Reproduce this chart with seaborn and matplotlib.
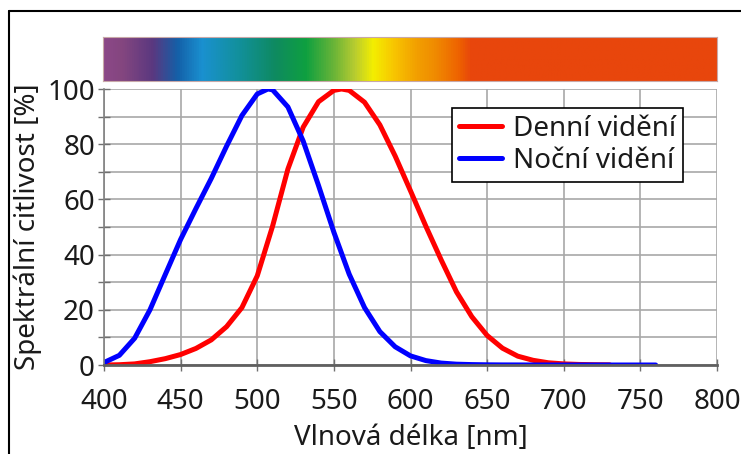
import matplotlib

matplotlib.use("Agg")
import matplotlib.pyplot as plt
from matplotlib.colors import LinearSegmentedColormap
from matplotlib.lines import Line2D
import numpy as np
import pandas as pd
import seaborn as sns

# photopic (day) sensitivity, %
DAY_WL = [400, 410, 420, 430, 440, 450, 460, 470, 480, 490, 500, 510, 520, 530, 540,
          550, 555, 560, 570, 580, 590, 600, 610, 620, 630, 640, 650, 660, 670, 680,
          690, 700, 710, 720, 730]
DAY_VAL = [0.0, 0.1, 0.4, 1.2, 2.3, 3.8, 6.0, 9.1, 13.9, 20.8, 32.3, 50.3, 71.0, 86.2, 95.4,
           99.5, 100.0, 99.5, 95.2, 87.0, 75.7, 63.1, 50.3, 38.1, 26.5, 17.5, 10.7, 6.1, 3.2, 1.7,
           0.8, 0.4, 0.2, 0.1, 0.05]

# scotopic (night) sensitivity, %
NIGHT_WL = [400, 410, 420, 430, 440, 450, 460, 470, 480, 490, 500, 507, 510, 520, 530,
            540, 550, 560, 570, 580, 590, 600, 610, 620, 630, 640, 650, 660, 680, 700,
            720, 740, 760]
NIGHT_VAL = [0.9, 3.5, 9.7, 20.0, 32.8, 45.5, 56.7, 67.6, 79.3, 90.4, 98.2, 100.0, 99.7, 93.5, 81.1,
             65.0, 48.1, 32.9, 20.8, 12.1, 6.6, 3.3, 1.6, 0.7, 0.3, 0.15, 0.07, 0.03, 0.01, 0.0,
             0.0, 0.0, 0.0]

LABELS = ["Denní vidění", "Noční vidění"]
COLORS = ["#ff0000", "#0000ff"]

X_TICKS = [400, 450, 500, 550, 600, 650, 700, 750, 800]
Y_TICKS = [0, 20, 40, 60, 80, 100]

# colour stops of the spectrum strip (fraction of width, colour)
SPECTRUM = [
    (0.00, "#8c4888"), (0.03, "#84467f"), (0.08, "#5a3880"), (0.12, "#1460a8"),
    (0.16, "#1a90d0"), (0.22, "#12909c"), (0.28, "#0e8a60"), (0.33, "#0ea040"),
    (0.375, "#68b438"), (0.41, "#b8cc30"), (0.44, "#f4ee00"), (0.475, "#f8c400"),
    (0.51, "#f2a000"), (0.54, "#f08c00"), (0.58, "#ee6200"), (0.60, "#e8460c"),
    (1.00, "#e8460c"),
]

sns.set_theme(style="white")
plt.rcParams["font.family"] = ["Noto Sans", "DejaVu Sans"]
text_col = "#1a1a1a"
fs = 20

df = pd.concat([
    pd.DataFrame({"wl": DAY_WL, "val": DAY_VAL, "typ": LABELS[0]}),
    pd.DataFrame({"wl": NIGHT_WL, "val": NIGHT_VAL, "typ": LABELS[1]}),
], ignore_index=True)

fig = plt.figure(figsize=(7.41, 4.54), dpi=100)
ax = fig.add_axes([104 / 741, 1 - 365 / 454, 613 / 741, 276 / 454])
sns.lineplot(data=df, x="wl", y="val", hue="typ", palette=dict(zip(LABELS, COLORS)),
             linewidth=3.6, ax=ax, legend=False)

ax.set_xlim(400, 800)
ax.set_ylim(0, 100)
ax.set_xticks(X_TICKS)
ax.set_yticks(Y_TICKS)
ax.set_yticks(np.arange(10, 100, 20), minor=True)
ax.grid(True, which="both", color="#a8a8a8", linewidth=1.2)
ax.set_axisbelow(True)
for side in ("top", "right"):
    ax.spines[side].set_visible(False)
ax.spines["left"].set_color("#808080")
ax.spines["left"].set_linewidth(1.2)
ax.spines["bottom"].set_color("#606060")
ax.spines["bottom"].set_linewidth(2)
ax.tick_params(axis="both", which="both", direction="inout", length=9, width=1,
               color="#707070", labelsize=fs, labelcolor=text_col, left=True, bottom=True)
ax.tick_params(axis="y", pad=2)
ax.tick_params(axis="x", pad=12)
ax.set_xlabel("Vlnová délka [nm]", fontsize=fs, color=text_col, labelpad=6)
ax.set_ylabel("Spektrální citlivost [%]", fontsize=fs, color=text_col, labelpad=4)

handles = [Line2D([], [], color=c, linewidth=3.6) for c in COLORS]
leg = ax.legend(handles, LABELS, loc="upper right", bbox_to_anchor=(0.945, 0.931),
                borderaxespad=0, fontsize=fs, handlelength=1.55, handletextpad=0.4,
                borderpad=0.25, labelspacing=0.15, fancybox=False, framealpha=1,
                edgecolor="black")
leg.get_frame().set_linewidth(1.2)
for t in leg.get_texts():
    t.set_color(text_col)

# spectrum strip above the plot
cmap = LinearSegmentedColormap.from_list("spectrum", SPECTRUM)
sax = fig.add_axes([103 / 741, 1 - 81 / 454, 614 / 741, 44 / 454])
sax.imshow(np.linspace(0, 1, 512)[None, :], aspect="auto", cmap=cmap)
sax.set_xticks([])
sax.set_yticks([])
for sp in sax.spines.values():
    sp.set_color("#c8a8a8")
    sp.set_linewidth(0.8)

# outer frame (left and top only)
fig.add_artist(Line2D([9 / 741, 9 / 741], [0, 1 - 11 / 454], color="black", linewidth=1.5,
                      transform=fig.transFigure))
fig.add_artist(Line2D([9 / 741, 1], [1 - 11 / 454, 1 - 11 / 454], color="black", linewidth=1.5,
                      transform=fig.transFigure))

fig.savefig("out.png", dpi=100)
